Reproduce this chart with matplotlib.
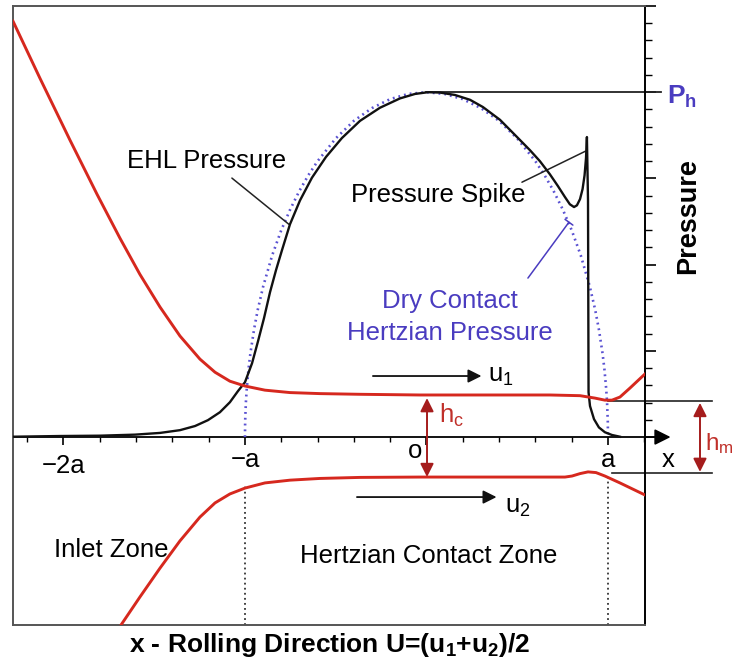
import numpy as np
import matplotlib
matplotlib.use('Agg')
import matplotlib.pyplot as plt

plt.rcParams['font.family'] = ['Liberation Sans', 'DejaVu Sans']
plt.rcParams['mathtext.default'] = 'regular'

# x in units of the Hertzian half width a, y in units of Ph (pressure) / same scale for film
upper_x = [-2.278, -2.130, -1.964, -1.815, -1.689, -1.579, -1.468, -1.358, -1.248, -1.165,
           -1.083, -1.000, -0.890, -0.752, -0.587, -0.366, -0.036, 0.680, 0.846, 0.928,
           0.983, 1.022, 1.066, 1.121, 1.204]
upper_y = [1.206, 1.041, 0.861, 0.704, 0.577, 0.472, 0.377, 0.293, 0.226, 0.188,
           0.162, 0.148, 0.136, 0.129, 0.126, 0.124, 0.122, 0.122, 0.120, 0.113,
           0.107, 0.107, 0.116, 0.142, 0.183]

lower_x = [-1.683, -1.579, -1.468, -1.358, -1.248, -1.165, -1.083, -1.000, -0.890, -0.752,
           -0.587, -0.366, -0.036, 0.763, 0.802, 0.846, 0.890, 0.934, 0.983, 1.066, 1.204]
lower_y = [-0.545, -0.464, -0.380, -0.301, -0.232, -0.191, -0.165, -0.148, -0.133, -0.125,
           -0.120, -0.117, -0.116, -0.116, -0.113, -0.106, -0.101, -0.103, -0.113, -0.133,
           -0.168]

ehl_x = [-2.278, -2.019, -1.799, -1.606, -1.468, -1.358, -1.275, -1.204, -1.138, -1.083,
         -1.039, -1.000, -0.961, -0.928, -0.895, -0.862, -0.829, -0.796, -0.752, -0.697,
         -0.631, -0.554, -0.466, -0.366, -0.256, -0.146, -0.063, 0.008, 0.074, 0.157,
         0.240, 0.311, 0.405, 0.499, 0.570, 0.625, 0.680, 0.724, 0.763, 0.790,
         0.813, 0.829, 0.846, 0.860, 0.871, 0.879, 0.884, 0.890, 0.893, 0.901,
         0.923, 0.950, 0.983, 1.022, 1.066]
ehl_y = [0.001, 0.003, 0.004, 0.007, 0.012, 0.020, 0.032, 0.049, 0.072, 0.101,
         0.133, 0.159, 0.214, 0.278, 0.345, 0.420, 0.484, 0.542, 0.617, 0.686,
         0.752, 0.812, 0.867, 0.917, 0.955, 0.982, 0.995, 1.000, 0.999, 0.992,
         0.978, 0.957, 0.920, 0.870, 0.832, 0.800, 0.762, 0.728, 0.696, 0.675,
         0.667, 0.672, 0.690, 0.719, 0.759, 0.809, 0.870, 0.687, 0.130, 0.090,
         0.052, 0.028, 0.014, 0.006, 0.001]

hertz_x = [-1.0, -0.999, -0.995, -0.99, -0.98, -0.97, -0.95, -0.93, -0.9, -0.85, -0.8, -0.75,
           -0.7, -0.65, -0.6, -0.5, -0.4, -0.3, -0.2, -0.1, 0.0, 0.1, 0.2, 0.3, 0.4, 0.5,
           0.6, 0.65, 0.7, 0.75, 0.8, 0.85, 0.9, 0.93, 0.95, 0.97, 0.98, 0.99, 0.995,
           0.999, 1.0]
hertz_y = [0.0, 0.045, 0.100, 0.141, 0.199, 0.243, 0.312, 0.368, 0.436, 0.527, 0.600, 0.661,
           0.714, 0.760, 0.800, 0.866, 0.917, 0.954, 0.980, 0.995, 1.000, 0.995, 0.980,
           0.954, 0.917, 0.866, 0.800, 0.760, 0.714, 0.661, 0.600, 0.527, 0.436, 0.368,
           0.312, 0.243, 0.199, 0.141, 0.100, 0.045, 0.0]

p_h = 1.0
h_c = (0.113, -0.116)   # film edges at centre
h_m = (0.104, -0.104)   # minimum film edges
tick_names = {-2: '\u22122a', -1: '\u2212a', 1: 'a'}

RED = '#d6281e'
DARKRED = '#a51c1c'
BLUE = '#4a3cc0'
DOTBLUE = '#5a52d2'

fig = plt.figure(figsize=(7.34, 6.68), dpi=100)
ax = fig.add_axes([13 / 734, 43 / 668, 632 / 734, 619 / 668])
xlo, xhi, ylo, yhi = -2.278, 1.204, -0.545, 1.249
ax.set_xlim(xlo, xhi)
ax.set_ylim(ylo, yhi)

for s in ['top', 'left', 'bottom']:
    ax.spines[s].set_color('#555555')
    ax.spines[s].set_linewidth(1.4)
ax.spines['right'].set_linewidth(1.4)

ax.set_xticks([])
ax.yaxis.tick_right()
ax.set_yticks(np.arange(0, 1.26, 0.25))
ax.set_yticks(np.arange(0, 1.26, 0.05), minor=True)
ax.tick_params(axis='y', which='major', direction='out', length=8, width=1.2, labelright=False)
ax.tick_params(axis='y', which='minor', direction='out', length=5, width=1.0)

# x axis through the origin
secax = ax.secondary_xaxis((0 - ylo) / (yhi - ylo))
secax.set_xticks([-2, -1, 0, 1])
secax.set_xticks(np.arange(-2.2, 1.21, 0.2), minor=True)
secax.tick_params(which='major', direction='out', length=6, width=1.2, labelbottom=False)
secax.tick_params(which='minor', direction='out', length=3.5, width=1.0)
secax.spines['bottom'].set_linewidth(1.3)
ax.annotate('', xy=(1.345, 0), xytext=(xhi, 0), annotation_clip=False,
            arrowprops=dict(arrowstyle='-|>', color='black', lw=1.3,
                            mutation_scale=24, shrinkA=0, shrinkB=0))

# curves
ax.plot(hertz_x, hertz_y, color=DOTBLUE, lw=1.9, ls=(0, (0.7, 1.5)), zorder=3)
ax.plot(ehl_x, ehl_y, color='#111111', lw=1.7, zorder=4)
ax.plot(upper_x, upper_y, color=RED, lw=2.1, zorder=5)
ax.plot(lower_x, lower_y, color=RED, lw=2.1, zorder=5)
ax.vlines([-1, 1], ylo, [-0.14, -0.12], colors='#333333', lw=1.3, linestyles=(0, (1, 1.8)))

# Ph reference line
ax.plot([0, 1.29], [p_h, p_h], color='#222222', lw=1.3, clip_on=False)
ax.text(1.327, 0.965, 'P$_h$', color=BLUE, fontsize=19, fontweight='bold', ha='left', va='baseline')
ax.text(1.441, 0.640, 'Pressure', fontsize=19.5, fontweight='bold', rotation=90,
        ha='center', va='center', clip_on=False)

# leaders and labels
ax.annotate('', xy=(-0.758, 0.617), xytext=(-1.072, 0.751),
            arrowprops=dict(arrowstyle='-', color='#222222', lw=1.1, shrinkA=0, shrinkB=0))
ax.text(-1.213, 0.780, 'EHL Pressure', fontsize=18.5, ha='center', va='baseline')
ax.annotate('', xy=(0.876, 0.829), xytext=(0.526, 0.739),
            arrowprops=dict(arrowstyle='-', color='#222222', lw=1.1, shrinkA=0, shrinkB=0))
ax.text(0.066, 0.681, 'Pressure Spike', fontsize=18.5, ha='center', va='baseline')
ax.annotate('', xy=(0.785, 0.623), xytext=(0.559, 0.461),
            arrowprops=dict(arrowstyle='-[, widthB=0.35, lengthB=0.0', color=BLUE, lw=1.1,
                            shrinkA=0, shrinkB=0))
ax.text(0.129, 0.374, 'Dry Contact', fontsize=18.5, color=BLUE, ha='center', va='baseline')
ax.text(0.127, 0.281, 'Hertzian Pressure', fontsize=18.5, color=BLUE, ha='center', va='baseline')

# surface velocities
ax.annotate('', xy=(0.303, 0.177), xytext=(-0.295, 0.177),
            arrowprops=dict(arrowstyle='-|>', color='#111111', lw=1.3, mutation_scale=20,
                            shrinkA=0, shrinkB=0))
ax.text(0.339, 0.159, 'u$_1$', fontsize=18.5, ha='left', va='baseline')
ax.annotate('', xy=(0.386, -0.174), xytext=(-0.383, -0.174),
            arrowprops=dict(arrowstyle='-|>', color='#111111', lw=1.3, mutation_scale=20,
                            shrinkA=0, shrinkB=0))
ax.text(0.433, -0.220, 'u$_2$', fontsize=18.5, ha='left', va='baseline')

# film thickness arrows
ax.annotate('', xy=(0.003, h_c[0]), xytext=(0.003, h_c[1]),
            arrowprops=dict(arrowstyle='<|-|>', color=DARKRED, lw=1.4, mutation_scale=20,
                            shrinkA=0, shrinkB=0))
ax.text(0.069, 0.041, 'h$_c$', fontsize=18.5, color='#c0302a', ha='left', va='baseline')
ax.plot([1.0, 1.573], [h_m[0], h_m[0]], color='#222222', lw=1.2, clip_on=False)
ax.plot([1.022, 1.573], [h_m[1], h_m[1]], color='#222222', lw=1.2, clip_on=False)
ax.annotate('', xy=(1.507, h_m[0] - 0.005), xytext=(1.507, h_m[1] + 0.003),
            annotation_clip=False,
            arrowprops=dict(arrowstyle='<|-|>', color=DARKRED, lw=1.4, mutation_scale=20,
                            shrinkA=0, shrinkB=0))
ax.text(1.533, -0.038, 'h$_m$', fontsize=17.5, color='#c0302a', ha='left', va='baseline',
        clip_on=False)

# axis labels on the x line
for pos, name in tick_names.items():
    ax.text(pos, -0.104 if pos == -2 else -0.087, name, fontsize=18.5, ha='center', va='baseline')
ax.text(-0.063, -0.061, 'o', fontsize=18.5, ha='center', va='baseline')
ax.text(1.331, -0.087, 'x', fontsize=18.5, ha='center', va='baseline', clip_on=False)

# zones
ax.text(-1.738, -0.348, 'Inlet Zone', fontsize=18.5, ha='center', va='baseline')
ax.text(0.011, -0.365, 'Hertzian Contact Zone', fontsize=18.5, ha='center', va='baseline')

ax.text(-0.532, -0.623, 'x - Rolling Direction U=(u$_1$+u$_2$)/2', fontsize=19,
        fontweight='bold', ha='center', va='baseline', clip_on=False)

fig.savefig('out.png', dpi=100)
